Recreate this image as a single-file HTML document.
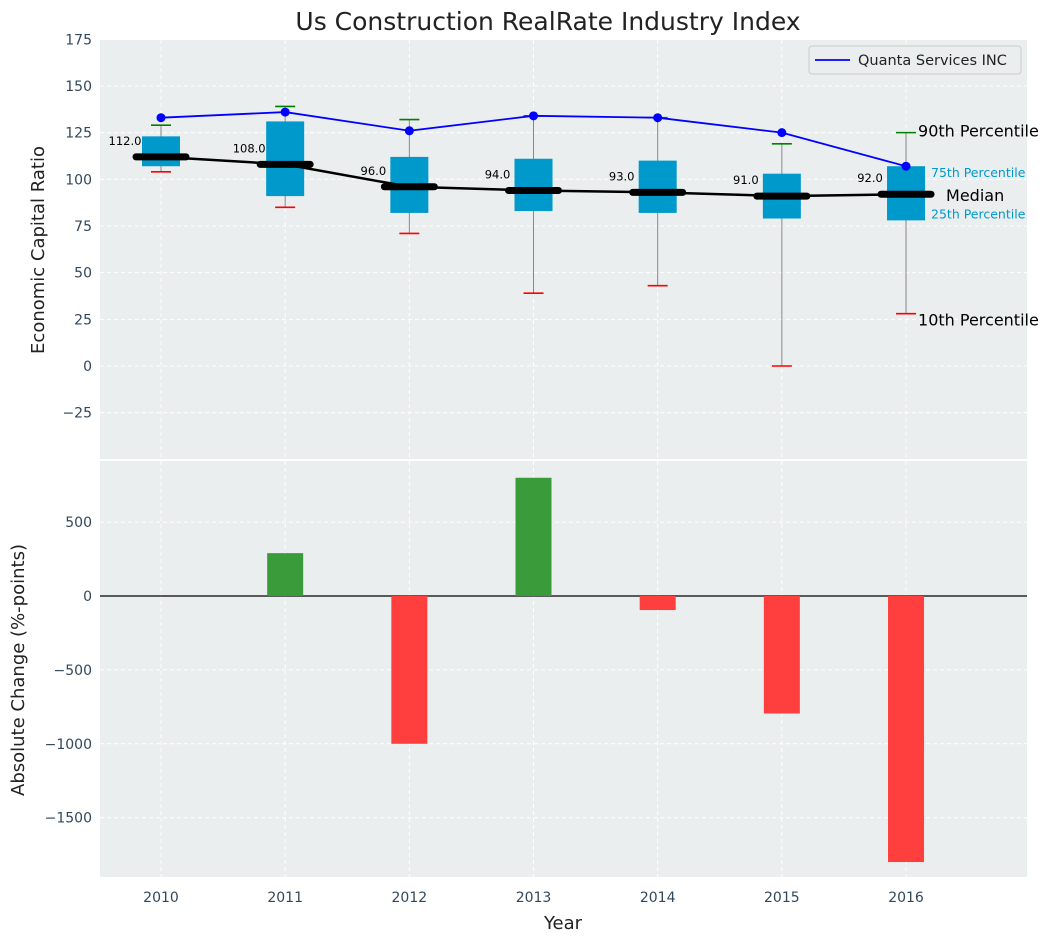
<!DOCTYPE html>
<html><head><meta charset="utf-8"><style>
body{margin:0;background:#fff;font-family:"Liberation Sans","DejaVu Sans",sans-serif}
svg text{font-family:"DejaVu Sans","Liberation Sans",sans-serif}
</style></head><body>
<svg id="c" width="1053" height="942" xmlns="http://www.w3.org/2000/svg"></svg>
<script>
const years=[2010,2011,2012,2013,2014,2015,2016];
const q1=[107,91,82,83,82,79,78];
const q3=[123,131,112,111,110,103,107];
const med=[112,108,96,94,93,91,92];
const lo=[104,85,71,39,43,0,28];
const hi=[129,139,132,134,133,119,125];
const quanta=[133,136,126,134,133,125,107];
const change=[0,290,-1000,800,-95,-795,-1800];
const topTicks=[175,150,125,100,75,50,25,0,-25];
const botTicks=[500,0,-500,-1000,-1500];
const NS="http://www.w3.org/2000/svg";
const svg=document.getElementById('c');
function el(t,a,p){const e=document.createElementNS(NS,t);for(const k in a)e.setAttribute(k,a[k]);(p||svg).appendChild(e);return e;}
const L=100,R=1027;
const x=v=>161+(v-2010)*124.17;
const yT=v=>366-v*1.867;
const yB=v=>596-v*0.1478;
let bg=el('rect',{x:L,y:40,width:R-L,height:419,fill:'#eaeeee'});

let bg2=el('rect',{x:L,y:461,width:R-L,height:416,fill:'#eaeeee'});

topTicks.forEach(t=>{el('line',{x1:L,x2:R,y1:yT(t),y2:yT(t),stroke:'#fff','stroke-dasharray':'4,3'});
 const tx=el('text',{x:L-8,y:yT(t)+5,'text-anchor':'end','font-size':14,fill:'#33475b'});tx.textContent=t===-25?'\u221225':t;
 });
botTicks.forEach(t=>{el('line',{x1:L,x2:R,y1:yB(t),y2:yB(t),stroke:'#fff','stroke-dasharray':'4,3'});
 const tx=el('text',{x:L-8,y:yB(t)+5,'text-anchor':'end','font-size':14,fill:'#33475b'});tx.textContent=String(t).replace('-','\u2212');
 });
years.forEach(yr=>{el('line',{x1:x(yr),x2:x(yr),y1:40,y2:459,stroke:'#fff','stroke-dasharray':'4,3'});
 el('line',{x1:x(yr),x2:x(yr),y1:461,y2:877,stroke:'#fff','stroke-dasharray':'4,3'});
 const tx=el('text',{x:x(yr),y:902,'text-anchor':'middle','font-size':14,fill:'#33475b'});tx.textContent=yr;
 });
years.forEach((yr,i)=>{const cx=x(yr);
 el('line',{x1:cx,x2:cx,y1:yT(hi[i]),y2:yT(lo[i]),stroke:'#888','stroke-width':1});
 const b=el('rect',{x:cx-19,y:yT(q3[i]),width:38,height:yT(q1[i])-yT(q3[i]),fill:'#0099cc'});
 
 el('line',{x1:cx-10,x2:cx+10,y1:yT(hi[i]),y2:yT(hi[i]),stroke:'green','stroke-width':1.6});
 el('line',{x1:cx-10,x2:cx+10,y1:yT(lo[i]),y2:yT(lo[i]),stroke:'red','stroke-width':1.6});
 const m=el('line',{x1:cx-25,x2:cx+25,y1:yT(med[i]),y2:yT(med[i]),stroke:'#000','stroke-width':7,'stroke-linecap':'round'});
 
 const t=el('text',{x:cx-36,y:yT(med[i])-12,'text-anchor':'middle','font-size':11.5,fill:'#000'});t.textContent=med[i].toFixed(1);
 
});
let ml=el('polyline',{points:years.map((yr,i)=>x(yr)+','+yT(med[i])).join(' '),fill:'none',stroke:'#000','stroke-width':2.5});

let ql=el('polyline',{points:years.map((yr,i)=>x(yr)+','+yT(quanta[i])).join(' '),fill:'none',stroke:'#0000ff','stroke-width':1.8});

years.forEach((yr,i)=>{const p=el('circle',{cx:x(yr),cy:yT(quanta[i]),r:4.5,fill:'#0000ff'});
 });
const last=6,ax=x(2016);
[[ax+12,yT(hi[last])+4,'90th Percentile',16,'#000'],[ax+25,yT(q3[last])+11,'75th Percentile',12.5,'#0099cc'],
 [ax+40,yT(med[last])+7,'Median',16,'#000'],[ax+25,yT(q1[last])-2,'25th Percentile',12.5,'#0099cc'],
 [ax+12,yT(lo[last])+12,'10th Percentile',16,'#000']].forEach(a=>{const t=el('text',{x:a[0],y:a[1],'font-size':a[3],fill:a[4]});t.textContent=a[2];
 });
const lg=el('g',{});
el('rect',{x:809,y:46,width:212,height:28,fill:'#eaeeee',stroke:'#ccc',rx:3},lg);
el('line',{x1:815,x2:850,y1:60,y2:60,stroke:'#0000ff','stroke-width':1.8},lg);
const lt=el('text',{x:858,y:65,'font-size':14.5,fill:'#222'},lg);lt.textContent='Quanta Services INC';
el('line',{x1:L,x2:R,y1:yB(0),y2:yB(0),stroke:'#000','stroke-width':1.2});
years.forEach((yr,i)=>{if(!change[i])return;const v=change[i];
 const b=el('rect',{x:x(yr)-18,y:Math.min(yB(0),yB(v)),width:36,height:Math.abs(yB(v)-yB(0)),fill:v>0?'#3a9b3a':'#ff3e3e'});
 });
let tt=el('text',{x:548,y:30,'text-anchor':'middle','font-size':25,fill:'#222'});tt.textContent='Us Construction RealRate Industry Index';

let yl=el('text',{x:0,y:0,'text-anchor':'middle','font-size':18,fill:'#222',transform:'translate(44,250) rotate(-90)'});yl.textContent='Economic Capital Ratio';

let yl2=el('text',{x:0,y:0,'text-anchor':'middle','font-size':18,fill:'#222',transform:'translate(24,670) rotate(-90)'});yl2.textContent='Absolute Change (%-points)';

let xl=el('text',{x:563,y:929,'text-anchor':'middle','font-size':18,fill:'#222'});xl.textContent='Year';

</script></body></html>
